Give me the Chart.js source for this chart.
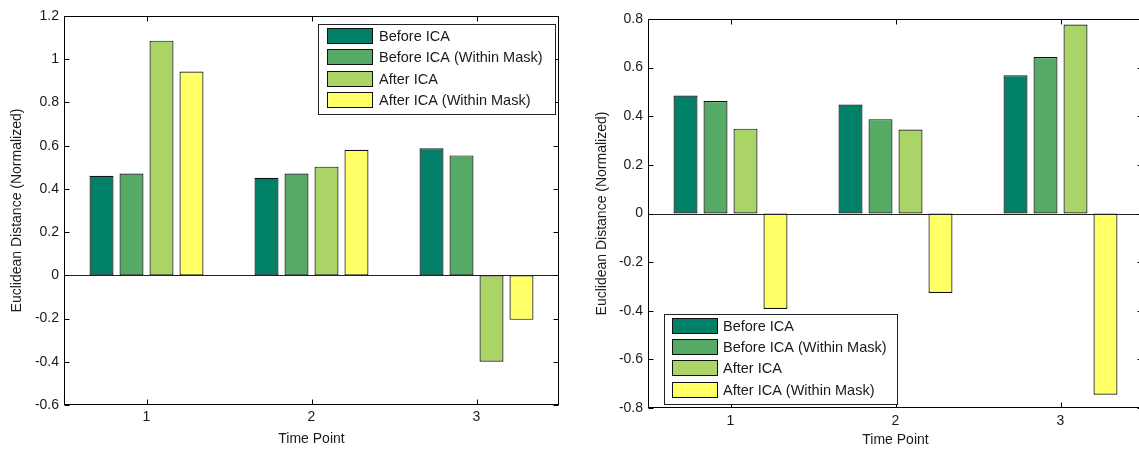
<!DOCTYPE html>
<html><head><meta charset="utf-8">
<script src="https://cdn.jsdelivr.net/npm/chart.js@4.4.1/dist/chart.umd.min.js"></script>
<style>
html,body{margin:0;padding:0;background:#fff;overflow:hidden;width:1139px;height:453px;}
#wl{position:absolute;left:0;top:0;width:570px;height:453px;overflow:hidden;}
#wr{position:absolute;left:570px;top:0;width:569px;height:453px;overflow:hidden;}
canvas{display:block;}
</style></head><body>
<div id="wl"><canvas id="cl" width="570" height="453" style="width:570px;height:453px"></canvas></div>
<div id="wr"><canvas id="cr" width="585" height="453" style="width:585px;height:453px"></canvas></div>
<script>
// ---- data ----
const timePoints = ['1', '2', '3'];
const seriesNames = ['Before ICA', 'Before ICA (Within Mask)', 'After ICA', 'After ICA (Within Mask)'];
const seriesColors = ['rgb(0,128,102)', 'rgb(85,170,102)', 'rgb(170,213,102)', 'rgb(255,255,102)'];

const leftBefore = [0.461, 0.451, 0.588];
const leftBeforeMask = [0.471, 0.471, 0.555];
const leftAfter = [1.086, 0.503, -0.400];
const leftAfterMask = [0.943, 0.581, -0.206];

const rightBefore = [0.485, 0.448, 0.569];
const rightBeforeMask = [0.463, 0.388, 0.644];
const rightAfter = [0.349, 0.345, 0.777];
const rightAfterMask = [-0.393, -0.327, -0.745];

const leftYTicks = [-0.6, -0.4, -0.2, 0, 0.2, 0.4, 0.6, 0.8, 1, 1.2];
const rightYTicks = [-0.8, -0.6, -0.4, -0.2, 0, 0.2, 0.4, 0.6, 0.8];

const xTitle = 'Time Point';
const yTitle = 'Euclidean Distance (Normalized)';

// ---- rendering ----
const FONT = "'Liberation Sans', Arial, Helvetica, sans-serif";
const TEXT = '#1a1a1a';

const framePlugin = {
  id: 'frame',
  afterDatasetsDraw(chart, args, opts) {
    const {ctx, chartArea: a, scales: {x, y}} = chart;
    ctx.save();
    const L = Math.round(a.left) + 0.5, R = Math.round(a.right) - 0.5;
    const T = Math.round(a.top) + 0.5, B = Math.round(a.bottom) - 0.5;
    ctx.lineWidth = 1;
    // zero baseline
    ctx.strokeStyle = '#222';
    const z = Math.round(y.getPixelForValue(0)) + 0.5;
    ctx.beginPath(); ctx.moveTo(L, z); ctx.lineTo(R, z); ctx.stroke();
    // box
    ctx.strokeStyle = '#000';
    ctx.strokeRect(L, T, R - L, B - T);
    // inward ticks
    ctx.beginPath();
    y.ticks.forEach(t => {
      const p = Math.round(y.getPixelForValue(t.value)) + 0.5;
      ctx.moveTo(L, p); ctx.lineTo(L + 5, p);
      ctx.moveTo(R, p); ctx.lineTo(R - 5, p);
    });
    x.ticks.forEach((t, i) => {
      const p = Math.round(x.getPixelForTick(i)) + 0.5;
      ctx.moveTo(p, B); ctx.lineTo(p, B - 5);
      ctx.moveTo(p, T); ctx.lineTo(p, T + 5);
    });
    ctx.stroke();
    // legend
    const lg = opts.legend;
    ctx.fillStyle = '#fff';
    ctx.fillRect(lg.x, lg.y, lg.w, lg.h);
    ctx.strokeStyle = '#222';
    ctx.strokeRect(lg.x + 0.5, lg.y + 0.5, lg.w, lg.h);
    ctx.font = lg.fontSize + 'px ' + FONT;
    ctx.textBaseline = 'middle';
    ctx.textAlign = 'left';
    chart.data.datasets.forEach((ds, i) => {
      const sy = Math.round(lg.y + lg.first + i * lg.pitch);
      ctx.fillStyle = ds.backgroundColor;
      ctx.fillRect(lg.x + lg.sx, sy, lg.sw, lg.sh);
      ctx.strokeStyle = '#111';
      ctx.strokeRect(lg.x + lg.sx + 0.5, sy + 0.5, lg.sw - 1, lg.sh - 1);
      ctx.fillStyle = TEXT;
      ctx.fillText(ds.label, lg.x + lg.tx, sy + lg.sh / 2 + 0.5);
    });
    ctx.restore();
  }
};

function makeChart(id, series, yTicks, g) {
  return new Chart(document.getElementById(id), {
    type: 'bar',
    data: {
      labels: timePoints,
      datasets: series.map((vals, i) => ({
        label: seriesNames[i],
        data: vals,
        backgroundColor: seriesColors[i],
        borderColor: '#111',
        borderWidth: 1.2,
        borderSkipped: false,
        categoryPercentage: 0.727,
        barPercentage: 0.8
      }))
    },
    options: {
      responsive: false,
      animation: false,
      devicePixelRatio: 1,
      layout: {padding: {top: g.padTop, right: g.padRight, left: 0, bottom: 0}},
      plugins: {
        legend: {display: false},
        tooltip: {enabled: false},
        frame: {legend: g.legend}
      },
      scales: {
        x: {
          type: 'category',
          offset: true,
          grid: {display: false, drawTicks: false},
          border: {display: false},
          ticks: {padding: g.xTickPad, color: TEXT, font: {family: FONT, size: 14}, maxRotation: 0},
          title: {display: true, text: xTitle, color: TEXT, font: {family: FONT, size: 14}, padding: {top: 0, bottom: g.xTitlePad}},
          afterFit: s => { s.height = g.xHeight; }
        },
        y: {
          type: 'linear',
          min: yTicks[0],
          max: yTicks[yTicks.length - 1],
          afterBuildTicks: s => { s.ticks = yTicks.map(v => ({value: v})); },
          grid: {display: false, drawTicks: false},
          border: {display: false},
          ticks: {padding: 5, color: TEXT, font: {family: FONT, size: 14},
                  callback: v => String(Math.round(v * 10) / 10)},
          title: {display: true, text: yTitle, color: TEXT, font: {family: FONT, size: 14}, padding: {top: g.yTitlePad, bottom: 0}},
          afterFit: s => { s.width = g.yWidth; }
        }
      }
    },
    plugins: [framePlugin]
  });
}

makeChart('cl', [leftBefore, leftBeforeMask, leftAfter, leftAfterMask], leftYTicks, {
  padTop: 16, padRight: 11, yWidth: 64, xHeight: 48, yTitlePad: 9, xTickPad: 4, xTitlePad: 5,
  legend: {x: 318, y: 24, w: 237, h: 90, sx: 9, sw: 46, sh: 16, tx: 61, first: 4, pitch: 21.3, fontSize: 14.5}
});
makeChart('cr', [rightBefore, rightBeforeMask, rightAfter, rightAfterMask], rightYTicks, {
  padTop: 19, padRight: 12, yWidth: 78, xHeight: 45, yTitlePad: 23.5, xTickPad: 5, xTitlePad: 4,
  legend: {x: 94, y: 314, w: 233, h: 90, sx: 8, sw: 46, sh: 16, tx: 59, first: 3.5, pitch: 21.4, fontSize: 14.5}
});
</script>
</body></html>
